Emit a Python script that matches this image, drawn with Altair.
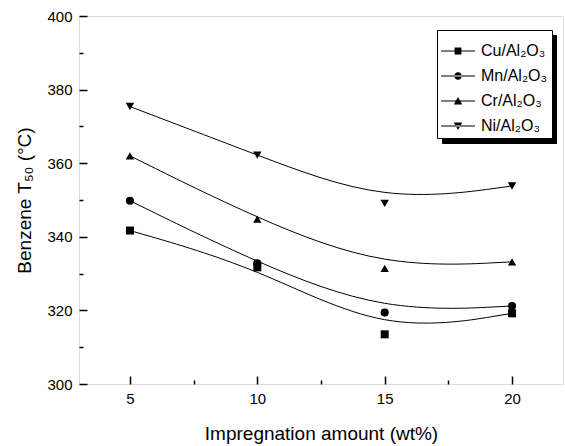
import altair as alt
import pandas as pd

# Impregnation amount (wt%) and benzene T50 (degC) per catalyst
amounts = [5, 10, 15, 20]
series = ["Cu/Al₂O₃", "Mn/Al₂O₃", "Cr/Al₂O₃", "Ni/Al₂O₃"]
cu = [341.7, 331.7, 313.5, 319.2]
mn = [349.8, 332.8, 319.4, 321.2]
cr = [362.0, 344.8, 331.4, 333.2]
ni = [375.4, 362.2, 349.1, 353.8]

y_major = [300, 320, 340, 360, 380, 400]
y_minor = [310, 330, 350, 370, 390]
x_major = [5, 10, 15, 20]
x_minor = [7.5, 12.5, 17.5]

rows = []
for name, vals in zip(series, [cu, mn, cr, ni]):
    for a, v in zip(amounts, vals):
        rows.append({"amount": a, "t50": v, "catalyst": name})
df = pd.DataFrame(rows)

FONT = "Liberation Sans"
xs = alt.Scale(domain=[3, 22], nice=False, zero=False)
ys = alt.Scale(domain=[300, 400], nice=False, zero=False)

x_axis_major = alt.Axis(values=x_major, orient="bottom", offset=-8, tickSize=8,
                        tickColor="black", tickWidth=1.5, domain=False, grid=False,
                        labelFont=FONT, labelFontSize=15, labelColor="black",
                        labelPadding=7, title="Impregnation amount (wt%)",
                        titleFont=FONT, titleFontSize=19, titleFontWeight="normal",
                        titleColor="black", titlePadding=18)
y_axis_major = alt.Axis(values=y_major, orient="left", offset=-8, tickSize=8,
                        tickColor="black", tickWidth=1.5, domain=False, grid=False,
                        labelFont=FONT, labelFontSize=15, labelColor="black",
                        labelPadding=7, title="Benzene T₅₀ (°C)",
                        titleFont=FONT, titleFontSize=19, titleFontWeight="normal",
                        titleColor="black", titlePadding=12)
x_axis_minor = alt.Axis(values=x_minor, orient="bottom", offset=-4, tickSize=4,
                        tickColor="black", tickWidth=1.5, domain=False, grid=False,
                        labels=False, title=None)
y_axis_minor = alt.Axis(values=y_minor, orient="left", offset=-4, tickSize=4,
                        tickColor="black", tickWidth=1.5, domain=False, grid=False,
                        labels=False, title=None)

# smooth B-spline curves through each series
curves = alt.Chart(df).mark_line(interpolate="basis", color="black", strokeWidth=1).encode(
    x=alt.X("amount:Q", scale=xs, axis=x_axis_major),
    y=alt.Y("t50:Q", scale=ys, axis=y_axis_major),
    detail="catalyst:N",
)

# filled markers
points = alt.Chart(df).mark_point(filled=True, color="black", opacity=1).encode(
    x=alt.X("amount:Q", scale=xs, axis=x_axis_minor),
    y=alt.Y("t50:Q", scale=ys, axis=y_axis_minor),
    shape=alt.Shape("catalyst:N", scale=alt.Scale(
        domain=series, range=["square", "circle", "triangle-up", "triangle-down"]), legend=None),
    size=alt.Size("catalyst:N", scale=alt.Scale(domain=series, range=[64, 72, 95, 95]), legend=None),
)

# legend glyphs: a short line with the marker in its middle
line_part = "M-1,-0.03H1V0.03H-1Z"
legend_paths = [
    line_part + "M-0.2,-0.2H0.2V0.2H-0.2Z",
    line_part + "M-0.22,0A0.22,0.22 0 1,0 0.22,0A0.22,0.22 0 1,0 -0.22,0Z",
    line_part + "M0,-0.24L0.25,0.2L-0.25,0.2Z",
    line_part + "M0,0.24L0.25,-0.2L-0.25,-0.2Z",
]
legend_common = dict(title=None, orient="none", padding=4, labelFont=FONT,
                     labelFontSize=16, symbolSize=1156, rowPadding=-10,
                     symbolStrokeWidth=0)


def legend_chart(legend):
    return alt.Chart(df).mark_point(filled=True, color="black", opacity=0).encode(
        x=alt.X("amount:Q", scale=xs, axis=None),
        y=alt.Y("t50:Q", scale=ys, axis=None),
        shape=alt.Shape("catalyst:N", scale=alt.Scale(domain=series, range=legend_paths),
                        legend=legend),
    )


# solid drop shadow behind the legend box; a wide label offset stands in for the text width
shadow_layer = legend_chart(alt.Legend(legendX=363, legendY=19, strokeColor="black",
                                       fillColor="black", labelColor="black",
                                       labelExpr="''", labelOffset=72,
                                       symbolFillColor="black", symbolOpacity=0,
                                       **legend_common))
legend_layer = legend_chart(alt.Legend(legendX=358, legendY=14, strokeColor="black",
                                       fillColor="white", labelColor="black",
                                       labelOffset=6,
                                       symbolFillColor="black", symbolOpacity=1,
                                       **legend_common))

chart = alt.layer(curves, points, shadow_layer, legend_layer).resolve_scale(
    shape="independent", size="independent"
).resolve_axis(x="independent", y="independent").properties(
    width=484, height=368,
    autosize=alt.AutoSizeParams(type="none"),
    padding={"left": 79, "top": 16, "right": 2, "bottom": 62},
).configure_view(stroke="black", strokeWidth=1.5).configure(background="white")

chart.save("out.html", embed_options={"renderer": "svg", "actions": False})
